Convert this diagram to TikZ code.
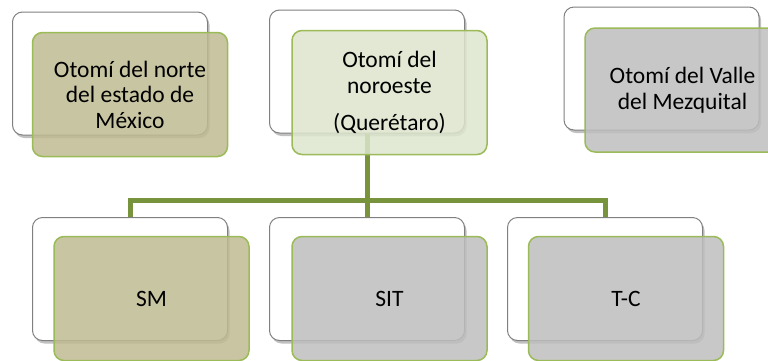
\documentclass[tikz,border=0pt]{standalone}
\usepackage{fontspec}
\setmainfont{Carlito}
\usetikzlibrary{shadows}
\definecolor{bordergreen}{RGB}{155,187,89}
\definecolor{conngreen}{RGB}{119,147,60}
\definecolor{tanfill}{RGB}{191,187,146}
\definecolor{grayfill}{RGB}{190,190,190}
\definecolor{lightgreenfill}{RGB}{221,229,204}
\definecolor{backborder}{RGB}{128,128,128}
\begin{document}
\begin{tikzpicture}[x=1pt,y=-1pt,
  backbox/.style={draw=backborder, line width=1pt, fill=white, rounded corners=10pt,
    minimum width=195pt, minimum height=123pt, inner sep=0pt,
    drop shadow={shadow xshift=2pt, shadow yshift=-3pt, opacity=0.35, fill=black!70}},
  frontbox/.style={draw=bordergreen, line width=1.5pt, rounded corners=10pt,
    minimum width=195pt, minimum height=124pt, inner sep=0pt,
    fill opacity=0.85, text opacity=1, align=center,
    font=\fontsize{23.5}{25.5}\selectfont},
  conn/.style={line width=5pt, draw=conngreen}]
\useasboundingbox (0,0) rectangle (768,360);
\clip (0,0) rectangle (768,360);
% back boxes
\node[backbox] (tb1) at (110,73.5) {};
\node[backbox] (tb2) at (367,71.5) {};
\node[backbox] (tb3) at (661.5,68.5) {};
\node[backbox] (bb1) at (130,279) {};
\node[backbox] (bb2) at (367,279) {};
\node[backbox] (bb3) at (605,279) {};
% connectors
\coordinate (bus) at (367,200);
\draw[conn] (tb2.south) -- (bb2.north);
\draw[conn] (bb1.north) |- (bus) -| (bb3.north);
% front boxes
\node[frontbox, fill=tanfill] (tf1) at (130,94.5) {Otomí del norte\\del estado de\\México};
\node[frontbox, fill=lightgreenfill] (tf2) at (389.5,92.5) {Otomí del\\noroeste\\[12pt](Querétaro)};
\node[frontbox, fill=grayfill] (tf3) at (682.5,90) {Otomí del Valle\\del Mezquital};
\node[frontbox, fill=tanfill] (bf1) at (151.5,298.5) {SM};
\node[frontbox, fill=grayfill] (bf2) at (389.5,298.5) {SIT};
\node[frontbox, fill=grayfill] (bf3) at (626,298.5) {T-C};
\end{tikzpicture}
\end{document}
